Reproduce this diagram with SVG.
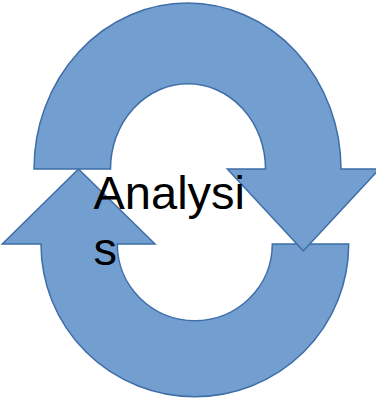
<svg xmlns="http://www.w3.org/2000/svg" width="376" height="399" viewBox="0 0 376 399">
  <style>
    .arrow { fill: #729FCF; stroke: #3E6DA8; stroke-width: 1.5; stroke-linejoin: miter; }
    .label { font-family: "Liberation Sans", Arial, sans-serif; font-size: 47px; fill: #000000; }
  </style>
  <rect width="376" height="399" fill="#FFFFFF"/>
  <g id="connectors">
    <g id="bottom-arrow">
      <path class="arrow" d="M348.7,244 A153.85,152.7 0 0 1 41,244 L2.3,244 L78.5,169 L155,244 L117.3,244 A77.5,76.7 0 0 0 272.3,244 Z"/>
    </g>
    <g id="top-arrow">
      <path class="arrow" d="M34,169 A153.5,166 0 0 1 341,169 L379.3,169 L303.3,251 L227.3,169 L265.5,169 A77.5,85.3 0 0 0 110.5,169 Z"/>
    </g>
  </g>
  <g id="node-analysis">
    <text class="label" x="93.5" y="208.5">Analysi</text>
    <text class="label" x="93.5" y="265">s</text>
  </g>
</svg>
